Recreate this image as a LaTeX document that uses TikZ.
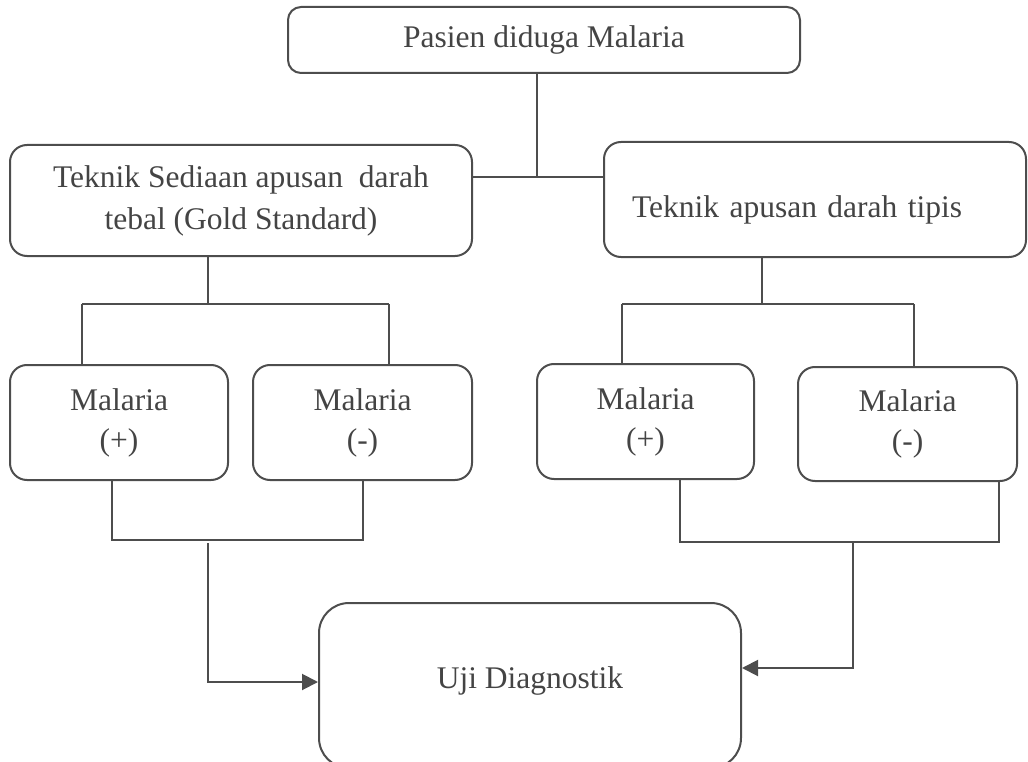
\documentclass[tikz,border=0pt]{standalone}
\usepackage{fontspec}
\setmainfont{Liberation Serif}
\usetikzlibrary{arrows.meta}

\definecolor{linec}{HTML}{4D4D4D}
\definecolor{textc}{HTML}{444444}

\begin{document}
\begin{tikzpicture}[x=1pt, y=-1pt,
    box/.style={draw=linec, line width=2pt, rounded corners=17pt, text=textc,
      font=\fontsize{31.5}{40}\selectfont, inner sep=0pt, align=center},
    link/.style={draw=linec, line width=2pt},
    flow/.style={link, -{Triangle[length=16pt, width=16pt]}}]
  \useasboundingbox (0,0) rectangle (1028,762);

  % boxes
  \node[box, rounded corners=13pt, minimum width=512pt, minimum height=66pt]
    (top) at (544,40) {Pasien diduga Malaria};
  \node[box, font=\fontsize{31.5}{42}\selectfont, minimum width=462pt, minimum height=111pt]
    (thick) at (241,200.5) {Teknik Sediaan apusan\ \ darah\\tebal (Gold Standard)};
  \node[box, minimum width=422pt, minimum height=115pt, text width=366pt,
    inner xsep=28pt, align=left]
    (thin) at (815,199.5) {\raisebox{-18.5pt}[0pt][0pt]{Teknik apusan darah tipis}};

  \node[box, minimum width=218pt, minimum height=115pt]
    (lpos) at (119,422.5) {Malaria\\(+)};
  \node[box, minimum width=219pt, minimum height=115pt]
    (lneg) at (362.5,422.5) {Malaria\\(-)};
  \node[box, minimum width=217pt, minimum height=115pt]
    (rpos) at (645.5,421.5) {Malaria\\(+)};
  \node[box, minimum width=219pt, minimum height=114pt]
    (rneg) at (907.5,424) {Malaria\\(-)};

  \node[box, rounded corners=30pt, minimum width=422pt, minimum height=165pt]
    (uji) at (530,685.5) {\raisebox{-2.5pt}[0pt][0pt]{Uji Diagnostik}};

  % junction points
  \coordinate (j0) at (537,177);
  \coordinate (jl) at (208,304);
  \coordinate (jl1) at (82,304);
  \coordinate (jl2) at (389,304);
  \coordinate (jr) at (762,304);
  \coordinate (jr1) at (622,304);
  \coordinate (jr2) at (914,304);
  \coordinate (bl1) at (112,540);
  \coordinate (bl2) at (363,540);
  \coordinate (bl) at (208,543);
  \coordinate (br1) at (680,542);
  \coordinate (br2) at (999,542);
  \coordinate (br) at (853,542);

  % top split
  \draw[link] (top.south -| j0) -- (j0);
  \draw[link] (thick.east |- j0) -- (thin.west |- j0);

  % left branch
  \draw[link] (thick.south -| jl) -- (jl);
  \draw[link] (jl1) -- (jl2);
  \draw[link] (jl1) -- (lpos.north -| jl1);
  \draw[link] (jl2) -- (lneg.north -| jl2);

  % right branch
  \draw[link] (thin.south -| jr) -- (jr);
  \draw[link] (jr1) -- (jr2);
  \draw[link] (jr1) -- (rpos.north -| jr1);
  \draw[link] (jr2) -- (rneg.north -| jr2);

  % results joined and sent to the diagnostic test
  \draw[link] (lpos.south -| bl1) -- (bl1) -- (bl2) -- (lneg.south -| bl2);
  \draw[flow] (bl) |- (uji.west |- 0,682);
  \draw[link] (rpos.south -| br1) -- (br1) -- (br2) -- (rneg.south -| br2);
  \draw[flow] (br) |- (uji.east |- 0,668);
\end{tikzpicture}
\end{document}
